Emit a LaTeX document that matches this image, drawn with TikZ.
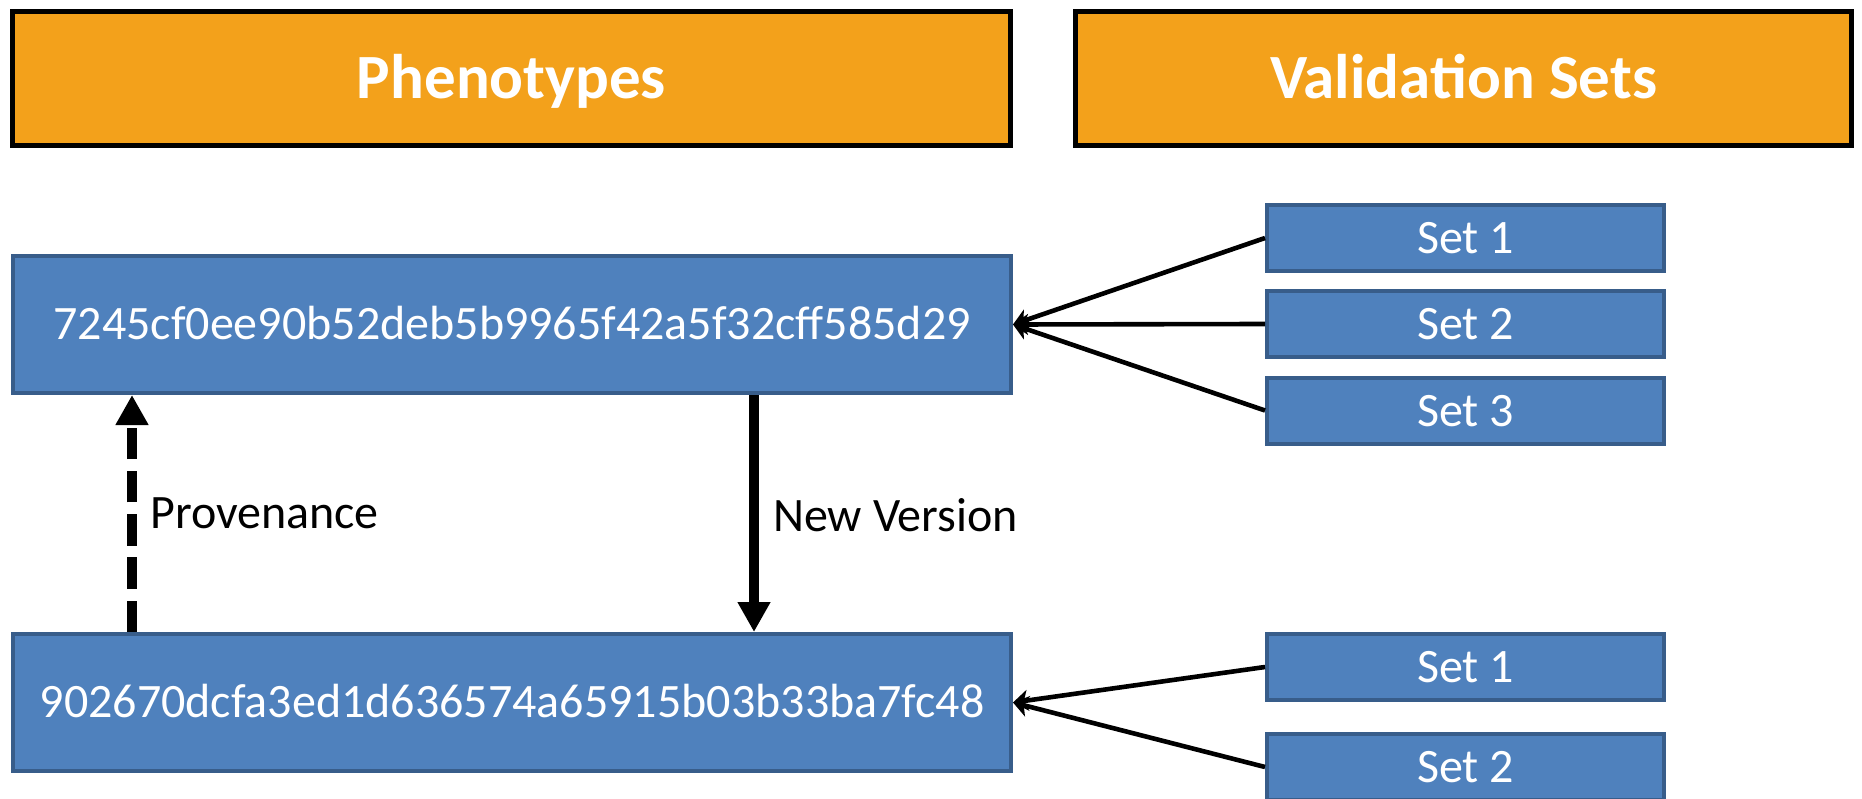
\documentclass[tikz,border=0pt]{standalone}
\usepackage{fontspec}
\setmainfont{Carlito}
\usetikzlibrary{arrows.meta}
\definecolor{hdrfill}{HTML}{F3A11B}
\definecolor{boxfill}{HTML}{4F81BD}
\definecolor{boxline}{HTML}{385D8A}
\newcommand{\hdrfont}{\fontsize{63}{70}\selectfont\bfseries}
\newcommand{\bodyfont}{\fontsize{48}{56}\selectfont}
\tikzset{
  header/.style={rectangle, draw=black, line width=5pt, fill=hdrfill, text=white,
    font=\hdrfont, minimum height=134pt, inner sep=0pt, text height=40.6pt, text depth=0pt},
  hashbox/.style={rectangle, draw=boxline, line width=4pt, fill=boxfill, text=white,
    font=\bodyfont, minimum width=998pt, minimum height=137pt, inner sep=0pt,
    text height=30.5pt, text depth=0pt},
  setbox/.style={rectangle, draw=boxline, line width=4pt, fill=boxfill, text=white,
    font=\bodyfont, minimum width=397pt, minimum height=66pt, inner sep=0pt,
    text height=31pt, text depth=0pt},
  link/.style={line width=4.6pt, -{Stealth[length=15pt,width=21pt,inset=4pt]}},
  flow/.style={line width=10pt, -{Triangle[length=30pt,width=31pt]}},
  prov/.style={flow, dash pattern=on 31.5pt off 11.7pt},
  lbl/.style={font=\bodyfont, inner sep=0pt, anchor=base west}
}
\begin{document}
\begin{tikzpicture}[x=1pt, y=-1pt]
  \clip (0,0) rectangle (1862,799);

  % column headers
  \node[header, minimum width=998pt] (hp) at (511.5,78.5) {Phenotypes};
  \node[header, minimum width=776pt] (hv) at (1463.5,78.5) {Validation Sets};

  % phenotype versions
  \node[hashbox] (h1) at (512,324.5) {7245cf0ee90b52deb5b9965f42a5f32cff585d29};
  \node[hashbox] (h2) at (512,702.5) {902670dcfa3ed1d636574a65915b03b33ba7fc48};

  % validation sets
  \node[setbox] (a1) at (1465.5,238) {Set 1};
  \node[setbox] (a2) at (1465.5,324) {Set 2};
  \node[setbox] (a3) at (1465.5,410.5) {Set 3};
  \node[setbox] (b1) at (1465.5,667) {Set 1};
  \node[setbox] (b2) at (1465.5,767) {Set 2};

  % set links
  \draw[link] (a1.west) -- (h1.east);
  \draw[link] (a2.west) -- (h1.east);
  \draw[link] (a3.west) -- (h1.east);
  \draw[link] (b1.west) -- (h2.east);
  \draw[link] (b2.west) -- (h2.east);

  % version links
  \coordinate (nv) at (754,0);
  \coordinate (pv) at (132,0);
  \draw[flow] (h1.south -| nv) -- (h2.north -| nv);
  \draw[prov] (h2.north -| pv) -- (h1.south -| pv);

  \node[lbl] (lp) at (150,528) {Provenance};
  \node[lbl] (lv) at (773,531) {New Version};
\end{tikzpicture}
\end{document}
